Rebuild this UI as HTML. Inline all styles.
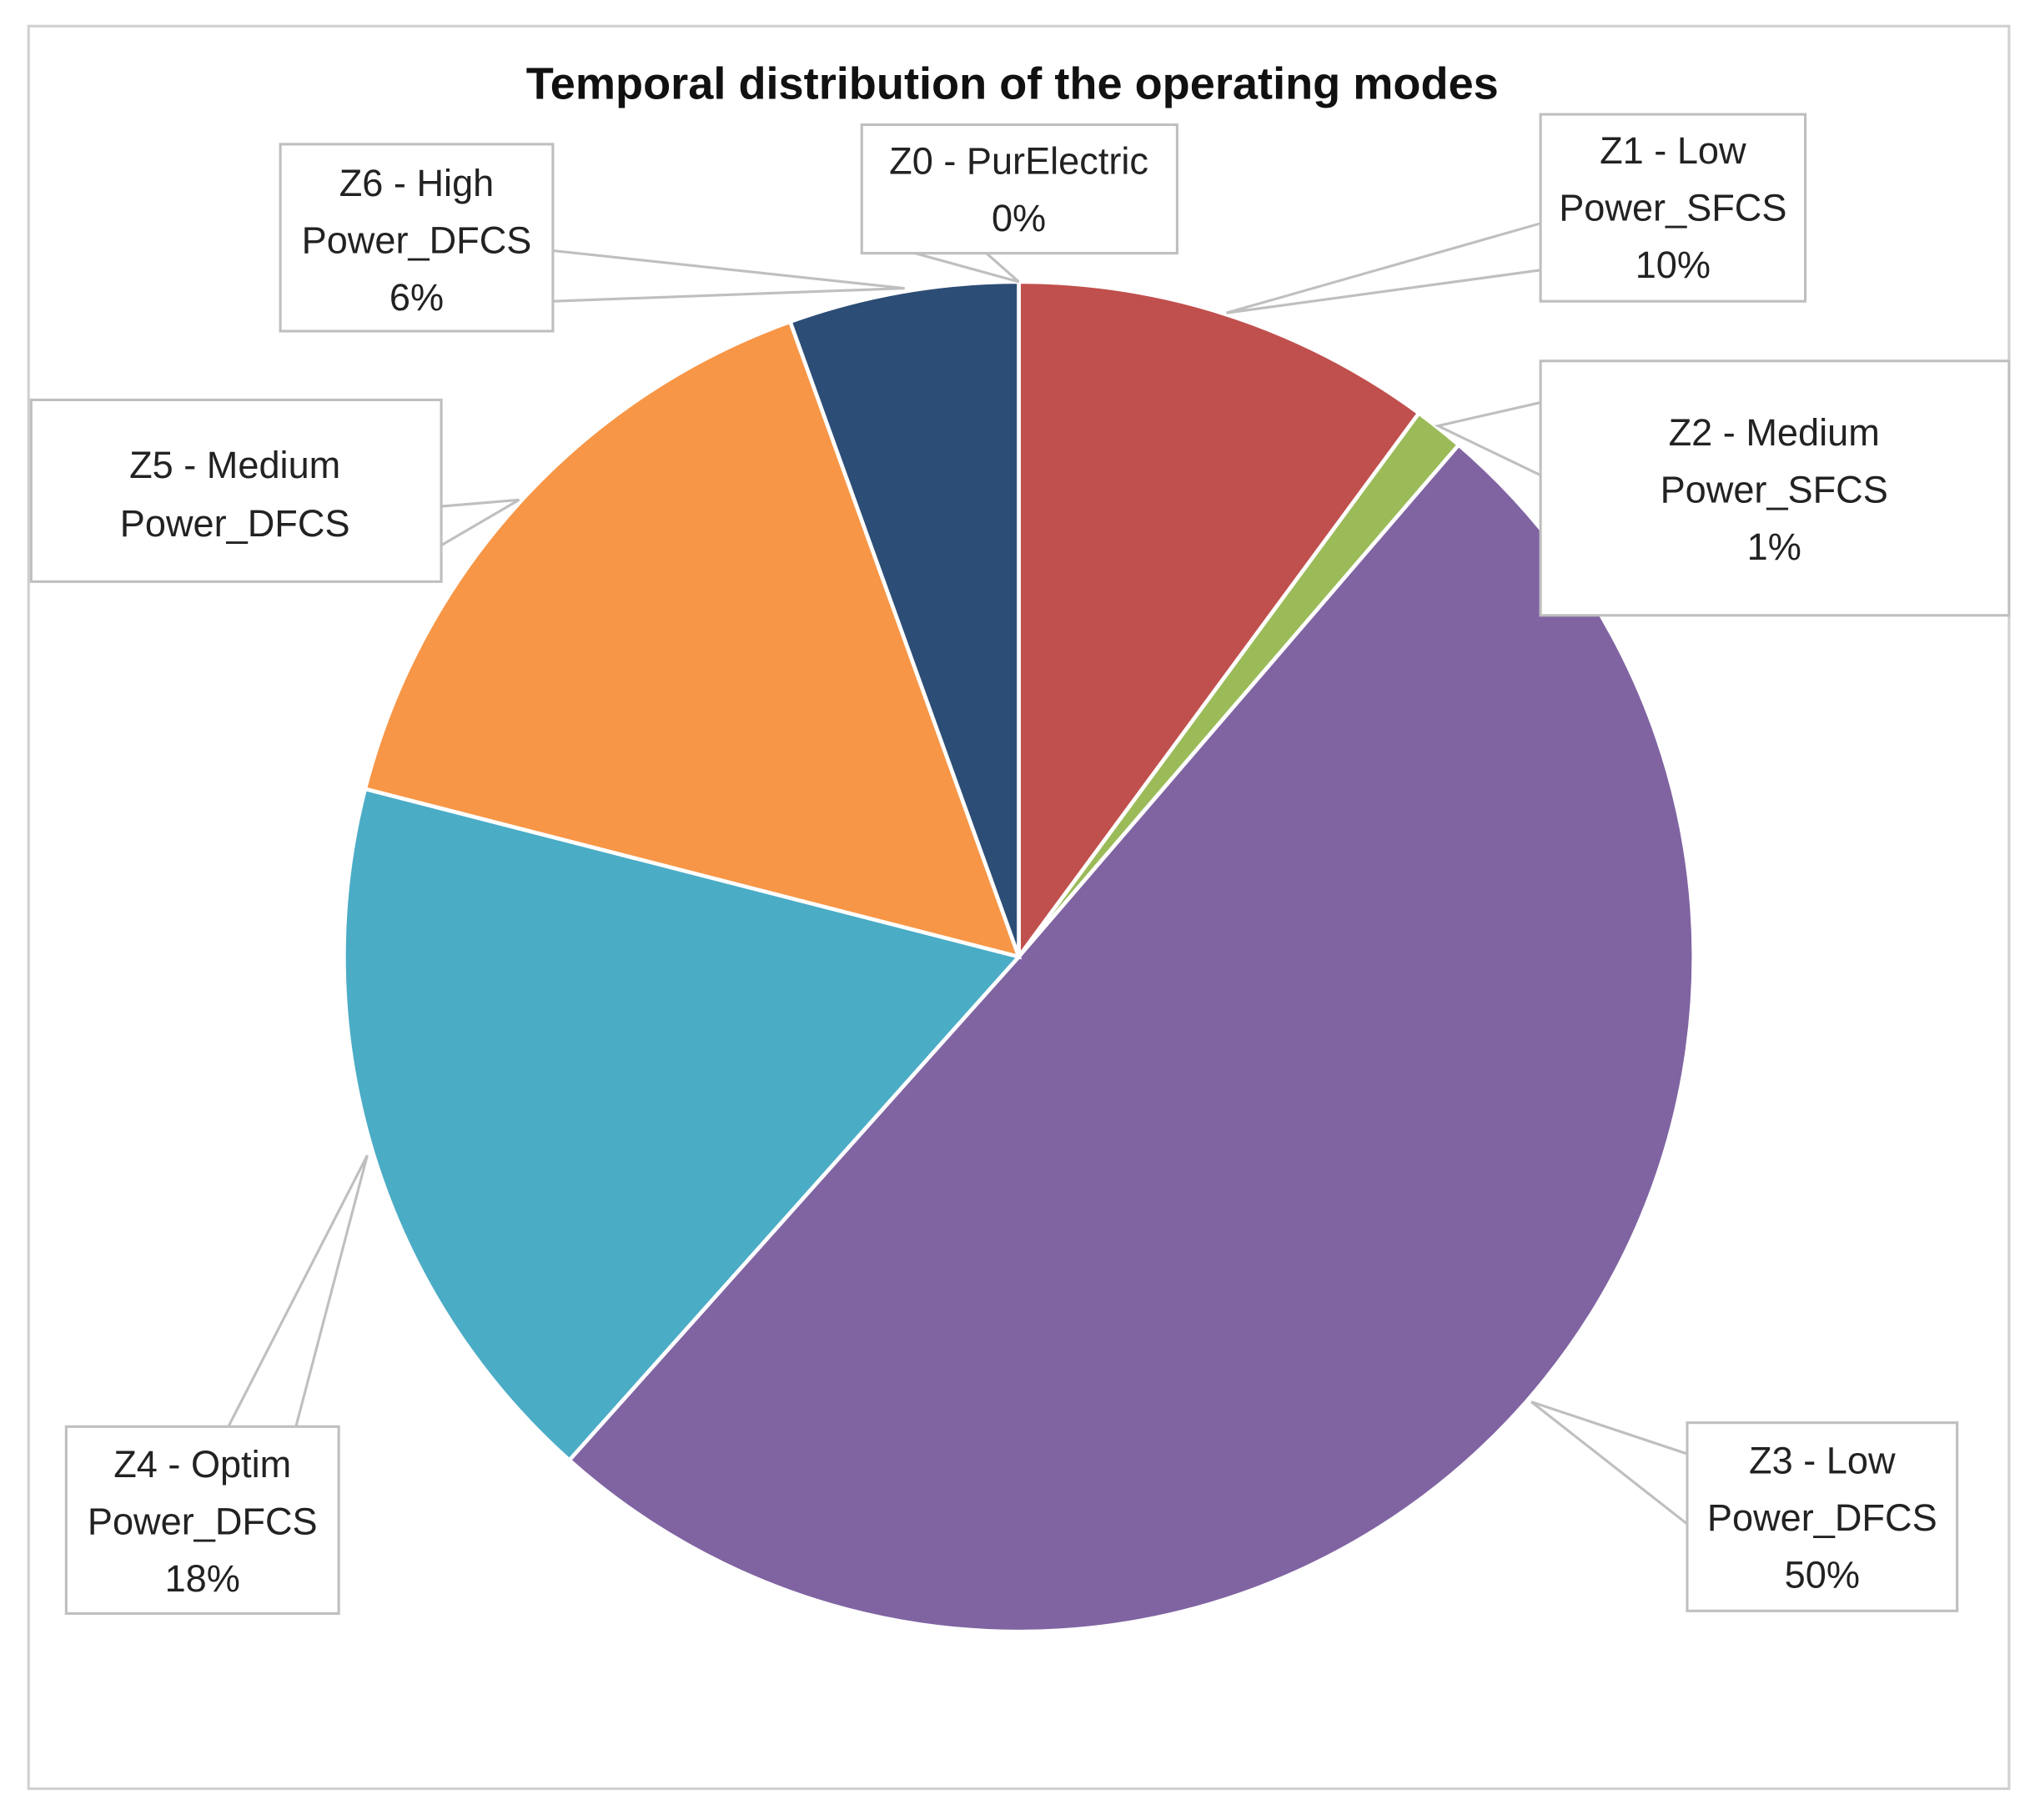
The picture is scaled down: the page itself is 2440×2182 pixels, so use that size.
<!DOCTYPE html>
<html><head><meta charset="utf-8"><style>
html,body{margin:0;padding:0;background:#fff;}
svg{display:block;}
text{font-family:"Liberation Sans",sans-serif;fill:#222;}
</style></head><body>
<svg id="chart" width="2440" height="2182" viewBox="0 0 1568 1402" xmlns="http://www.w3.org/2000/svg">
<rect x="22" y="20" width="1526" height="1358" fill="#fff" stroke="#d0d0d0" stroke-width="2"/>
<text x="780" y="76" text-anchor="middle" font-size="34.8" font-weight="bold" style="fill:#111">Temporal distribution of the operating modes</text>
<g id="slices"></g>
<g id="labels"></g>
</svg>
<script>
const categories=["Z0 - PurElectric","Z1 - Low Power_SFCS","Z2 - Medium Power_SFCS","Z3 - Low Power_DFCS","Z4 - Optim Power_DFCS","Z5 - Medium Power_DFCS","Z6 - High Power_DFCS"];
const values=[0,10.1,1.2,50.3,17.4,15.5,5.5];
const colors=["#4F81BD","#C0504D","#9BBB59","#8064A2","#4BACC6","#F79646","#2C4D75"];
const NS="http://www.w3.org/2000/svg";
const cx=785,cy=737,r=520;
const total=values.reduce((a,b)=>a+b,0);
function pt(frac){const a=frac*2*Math.PI;return [cx+r*Math.sin(a),cy-r*Math.cos(a)];}
const g=document.getElementById('slices');
let acc=0;
values.forEach((v,i)=>{
  const f0=acc/total, f1=(acc+v)/total; acc+=v;
  if(v<=0)return;
  const p0=pt(f0),p1=pt(f1);
  const large=(f1-f0)>0.5?1:0;
  const p=document.createElementNS(NS,'path');
  p.setAttribute('d',`M${cx},${cy} L${p0[0]},${p0[1]} A${r},${r} 0 ${large} 1 ${p1[0]},${p1[1]} Z`);
  p.setAttribute('fill',colors[i]);p.setAttribute('stroke','#fff');p.setAttribute('stroke-width','3');
  
  
  g.appendChild(p);
});
const boxes=[
 [664,96,243,99,785,[["Z0 - PurElectric",124],["0%",168]],[[705,195],[785,217],[760,195]]],
 [1187,88,204,144,1289,[["Z1 - Low",116],["Power_SFCS",160],["10%",204]],[[1187,172],[945,241],[1187,208]]],
 [1187,278,361,196,1367,[["Z2 - Medium",333],["Power_SFCS",377],["1%",421]],[[1187,310],[1108,328],[1187,366]]],
 [1300,1096,208,145,1404,[["Z3 - Low",1125],["Power_DFCS",1169],["50%",1213]],[[1300,1120],[1180,1080],[1300,1174]]],
 [51,1099,210,144,156,[["Z4 - Optim",1128],["Power_DFCS",1172],["18%",1216]],[[176,1099],[283,890],[228,1099]]],
 [24,308,316,140,181,[["Z5 - Medium",358],["Power_DFCS",403]],[[340,390],[400,385],[340,420]]],
 [216,111,210,144,321,[["Z6 - High",141],["Power_DFCS",185],["6%",229]],[[426,193],[697,222],[426,232]]]
];
const lg=document.getElementById('labels');
boxes.forEach((b,i)=>{
  const grp=document.createElementNS(NS,'g');
  
  
  const pl=document.createElementNS(NS,'polyline');
  pl.setAttribute('points',b[6].map(p=>p.join(',')).join(' '));
  pl.setAttribute('fill','none');pl.setAttribute('stroke','#bfbfbf');pl.setAttribute('stroke-width','2');
  grp.appendChild(pl);
  const rc=document.createElementNS(NS,'rect');
  rc.setAttribute('x',b[0]);rc.setAttribute('y',b[1]);rc.setAttribute('width',b[2]);rc.setAttribute('height',b[3]);
  rc.setAttribute('fill','#fff');rc.setAttribute('stroke','#bfbfbf');rc.setAttribute('stroke-width','2');
  grp.appendChild(rc);
  b[5].forEach(([t,y])=>{
    const tx=document.createElementNS(NS,'text');
    tx.setAttribute('x',b[4]);tx.setAttribute('y',y+10);tx.setAttribute('text-anchor','middle');tx.setAttribute('font-size','29');
    tx.textContent=t;grp.appendChild(tx);
  });
  lg.appendChild(grp);
});
</script>
</body></html>
